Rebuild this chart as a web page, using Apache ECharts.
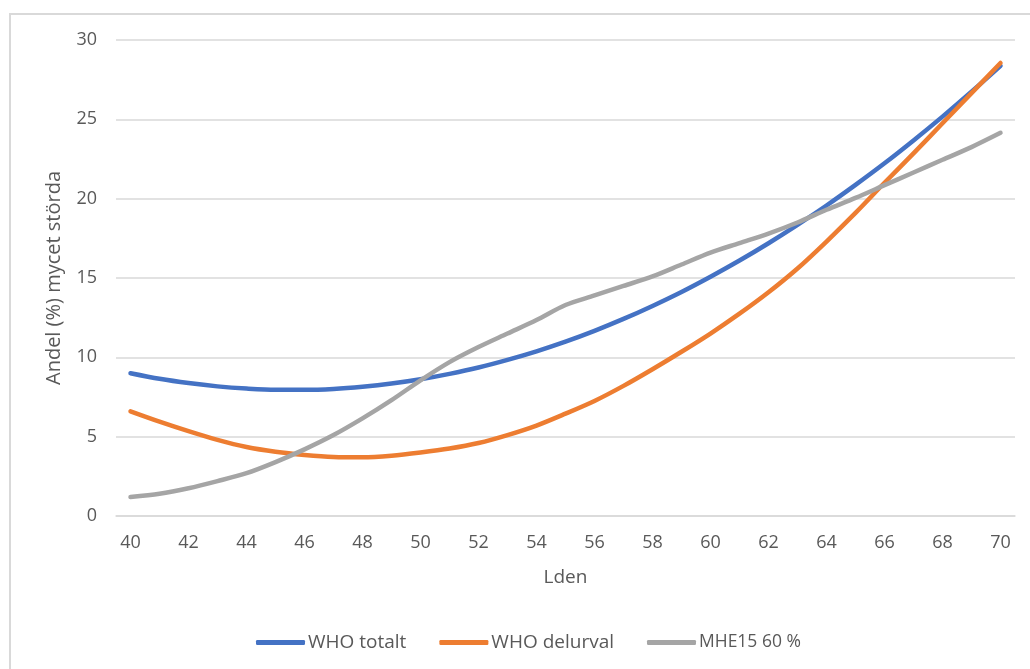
<!DOCTYPE html>
<html>
<head>
<meta charset="utf-8">
<script src="https://cdn.jsdelivr.net/npm/echarts@6/dist/echarts.min.js"></script>
<style>
html,body{margin:0;padding:0;background:#fff;}
#chart{width:1030px;height:669px;}
</style>
</head>
<body>
<div id="chart"></div>
<script>
const categories = ['40','41','42','43','44','45','46','47','48','49','50','51','52','53','54','55','56','57','58','59','60','61','62','63','64','65','66','67','68','69','70'];
const whoTotalt = [9.00,8.65,8.38,8.17,8.03,7.95,7.95,8.01,8.15,8.35,8.62,8.96,9.36,9.84,10.38,10.99,11.67,12.42,13.24,14.12,15.08,16.10,17.19,18.35,19.57,20.87,22.23,23.67,25.17,26.74,28.37];
const whoDelurval = [6.6,5.95,5.35,4.8,4.35,4.05,3.85,3.72,3.70,3.8,4.0,4.25,4.6,5.1,5.7,6.45,7.25,8.2,9.25,10.35,11.5,12.75,14.1,15.6,17.3,19.1,21.0,22.85,24.75,26.65,28.55];
const mhe15 = [1.2,1.4,1.75,2.2,2.7,3.4,4.2,5.1,6.15,7.3,8.55,9.7,10.65,11.5,12.35,13.3,13.9,14.5,15.1,15.85,16.6,17.2,17.8,18.5,19.3,20.05,20.85,21.65,22.45,23.25,24.15];
const seriesNames = ['WHO totalt','WHO delurval','MHE15 60 %'];
const yAxisTitle = 'Andel (%) mycet störda';
const xAxisTitle = 'Lden';

const FONT = '"Open Sans", sans-serif';
const TXT = '#595959';
const chart = echarts.init(document.getElementById('chart'), null, {renderer:'canvas'});
function ser(name, data, color){
  return {name, type:'line', data, showSymbol:false, symbol:'none', smooth:0.3,
    lineStyle:{color, width:4.5, cap:'round', join:'round'}, itemStyle:{color}};
}
chart.setOption({
  animation:false,
  backgroundColor:'#fff',
  graphic:[{type:'rect', shape:{x:10,y:14,width:1100,height:1000}, style:{fill:'none', stroke:'#d9d9d9', lineWidth:2}, silent:true}],
  grid:{left:116, right:15, top:40, bottom:153, containLabel:false},
  legend:{
    data:[{name:seriesNames[0]},{name:seriesNames[1]},{name:seriesNames[2], textStyle:{fontSize:17.5}}],
    left:251, top:628, itemGap:33, itemWidth:49, itemHeight:5, icon:'roundRect',
    textStyle:{color:TXT, fontFamily:FONT, fontSize:19, padding:[0,0,0,-2]}
  },
  xAxis:{
    type:'category', data:categories, boundaryGap:true,
    name:xAxisTitle, nameLocation:'middle', nameGap:52,
    nameTextStyle:{color:TXT, fontFamily:FONT, fontSize:19},
    axisLine:{show:true, lineStyle:{color:'#d9d9d9', width:1.5}},
    axisTick:{show:false},
    axisLabel:{interval:1, color:TXT, fontFamily:FONT, fontSize:18, margin:18}
  },
  yAxis:{
    type:'value', min:0, max:30, interval:5,
    name:yAxisTitle, nameLocation:'middle', nameGap:52,
    nameTextStyle:{color:TXT, fontFamily:FONT, fontSize:20},
    axisLine:{show:false}, axisTick:{show:false},
    axisLabel:{color:TXT, fontFamily:FONT, fontSize:18, margin:19},
    splitLine:{lineStyle:{color:'#d9d9d9', width:1.5}}
  },
  series:[ser(seriesNames[0], whoTotalt, '#4472C4'), ser(seriesNames[1], whoDelurval, '#ED7D31'), ser(seriesNames[2], mhe15, '#A5A5A5')]
});
</script>
</body>
</html>
